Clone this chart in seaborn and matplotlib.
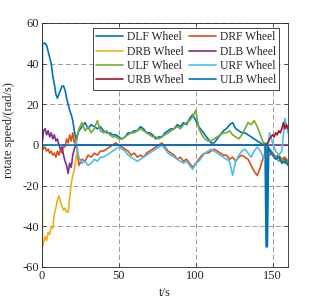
import numpy as np
import matplotlib
matplotlib.use("Agg")
import matplotlib.pyplot as plt
import seaborn as sns

# ---- data ----
labels = ["DLF Wheel", "DRF Wheel", "DRB Wheel", "DLB Wheel",
          "ULF Wheel", "URF Wheel", "URB Wheel", "ULB Wheel"]
colors = ["#0072BD", "#D95319", "#EDB120", "#7E2F8E",
          "#77AC30", "#4DBEEE", "#A2142F", "#0072BD"]

# DLF
dlf_t_early = [0, 0.3, 1, 2, 3, 4, 5, 6, 7, 8, 9, 10, 11, 12, 13, 14, 15, 16, 17, 18, 19, 20, 21]
dlf_early = [0, 50, 50, 50, 49, 46, 43, 40, 34, 30, 25, 23, 25, 27, 29, 29, 27, 23, 20, 17, 15, 12, 7]
dlf_t_mid = np.arange(22, 145, 2)
dlf_mid = [3, 7, 9, 11, 8, 10, 9, 8, 9, 7,
           6, 6, 5, 5, 4, 3, 4, 6, 6, 7,
           7, 9, 8, 6, 6, 5, 3, 4, 4, 6,
           7, 8, 8, 10, 9, 11, 10, 13, 15, 12,
           9, 7, 5, 3, 1, 1, 3, 5, 7, 8,
           10, 11, 8, 7, 6, 6, 5, 4, 3, 2,
           1, 0]
dlf_t_tail = [145, 145.8, 146.6, 147.4, 148, 150, 152, 154, 156, 158, 160]
dlf_tail = [1, -50, -50, -3, -2, -4, -6, -5, -8, -7, -9]

# DRF
drf_t_early = list(range(0, 23))
drf_early = [0, -2, -1, -3, -2, -4, -3, -5, -4, -6, -3, -5, -2, -4, 0, -1, 3, 1, 5, 2, 6, 1, 3]
drf_t_late = np.arange(24, 161, 2)
drf_late = [-10, -7, -8, -5, -6, -4, -5, -3, -3, -2,
            -1, 0, 1, 0, -1, -2, -3, -5, -4, -6,
            -5, -6, -4, -3, -2, -1, 0, 1, -1, -3,
            -4, -5, -7, -6, -8, -7, -9, -11, -9, -7,
            -5, -4, -4, -3, -2, -3, -4, -5, -5, -7,
            -6, -8, -6, -5, -6, -7, -10, -13, -15, -11,
            -6, -3, -5, -4, -6, -5, -7, -6, -8]

# DRB
drb_t = [0, 0.3, 1, 2, 3, 4, 5, 6, 7, 8, 9, 10, 11, 12, 13, 14, 15, 16, 17, 18, 19, 20, 21, 22, 23]
drb = [0, -50, -48, -45, -47, -43, -44, -40, -41, -34, -31, -27, -25, -28, -30, -32,
       -31, -33, -33, -26, -19, -15, -12, -7, -2]

# DLB
dlb_t = list(range(0, 23)) + [160]
dlb = [0, 7, 8, 5, 7, 4, 6, 3, 5, 2, 3, 0, -2, -1, -5, -8, -10, -14, -9, -11, -5, -2, 0, 0]

# ULF
ulf_t = np.arange(22, 161, 2)
ulf = [0, 8, 11, 7, 9, 6, 8, 12, 7, 6,
       7, 5, 4, 4, 3, 3, 4, 5, 6, 6,
       7, 8, 7, 6, 5, 4, 4, 3, 4, 5,
       6, 7, 8, 9, 8, 10, 11, 12, 14, 17,
       8, 5, 3, 2, 2, 3, 4, 5, 6, 6,
       7, 5, 4, 3, 5, 8, 11, 10, 12, 9,
       5, 1, -2, -3, -5, -6, -8, -7, -9, -8]

# URF
urf_t = np.arange(22, 161, 2)
urf = [2, -6, -9, -8, -10, -9, -7, -8, -6, -6,
       -5, -4, -3, -2, -1, -2, -3, -5, -6, -7,
       -8, -7, -6, -5, -4, -3, -2, -1, 0, -2,
       -4, -5, -6, -7, -8, -9, -8, -10, -12, -9,
       -8, -6, -4, -3, -2, -3, -4, -5, -6, -7,
       -8, -15, -8, -5, -3, -2, -4, -6, -3, -1,
       -3, -6, -10, 6, 1, -3, -5, -3, 13, 6]

# URB
urb_t = [146, 148, 150, 151, 152, 153, 154, 155, 156, 157, 158, 159, 160]
urb = [0, 3, 5, 4, 6, 5, 7, 6, 8, 11, 8, 10, 8]

# ULB
ulb_t = [0, 145.5, 146.2, 146.9, 148, 150, 152, 154, 156, 158, 160]
ulb = [0, 0, -50, 0, -3, -5, -7, -6, -9, -8, -10]

series = [
    (np.concatenate([dlf_t_early, dlf_t_mid, dlf_t_tail]), np.concatenate([dlf_early, dlf_mid, dlf_tail])),
    (np.concatenate([drf_t_early, drf_t_late]), np.concatenate([drf_early, drf_late])),
    (np.array(drb_t), np.array(drb)),
    (np.array(dlb_t), np.array(dlb)),
    (ulf_t, np.array(ulf)),
    (urf_t, np.array(urf)),
    (np.array(urb_t), np.array(urb)),
    (np.array(ulb_t), np.array(ulb)),
]

sns.set_style("ticks")
plt.rcParams["font.family"] = ["Liberation Serif", "DejaVu Serif"]
plt.rcParams["axes.unicode_minus"] = False

fig = plt.figure(figsize=(3.19, 3.05), dpi=100)
ax = fig.add_axes([0.1317, 0.1246, 0.7711, 0.80])

for (t, v), lab, c in zip(series, labels, colors):
    sns.lineplot(x=t, y=v, ax=ax, color=c, label=lab, lw=1.2,
                 estimator=None, sort=False)

ax.set_xlim(0, 160)
ax.set_ylim(-60, 60)
ax.set_xticks([0, 50, 100, 150])
ax.set_yticks([-60, -40, -20, 0, 20, 40, 60])
ax.grid(True, linestyle=(0, (5, 3)), color="#9a9a9a", lw=0.7)
ax.set_axisbelow(True)
for s in ax.spines.values():
    s.set_visible(True)
    s.set_color("#262626")
    s.set_linewidth(0.6)
ax.tick_params(direction="in", top=True, right=True, length=3, width=0.5,
               labelsize=9, colors="#262626", pad=2)
ax.set_xlabel("t/s", fontsize=9, labelpad=4)
ax.set_ylabel("rotate speed/(rad/s)", fontsize=9, labelpad=1)
ax.yaxis.set_label_coords(-0.11, 0.56)

h, l = ax.get_legend_handles_labels()
order = [0, 2, 4, 6, 1, 3, 5, 7]
leg = ax.legend([h[i] for i in order], [l[i] for i in order], ncol=2,
                loc="upper right", bbox_to_anchor=(0.965, 0.98), borderaxespad=0,
                fontsize=8.4, fancybox=False, framealpha=1, edgecolor="#262626",
                handlelength=2.3, handletextpad=0.3, columnspacing=0.5,
                labelspacing=0.2, borderpad=0.3)
leg.get_frame().set_linewidth(0.6)

fig.savefig("out.png", dpi=100)
